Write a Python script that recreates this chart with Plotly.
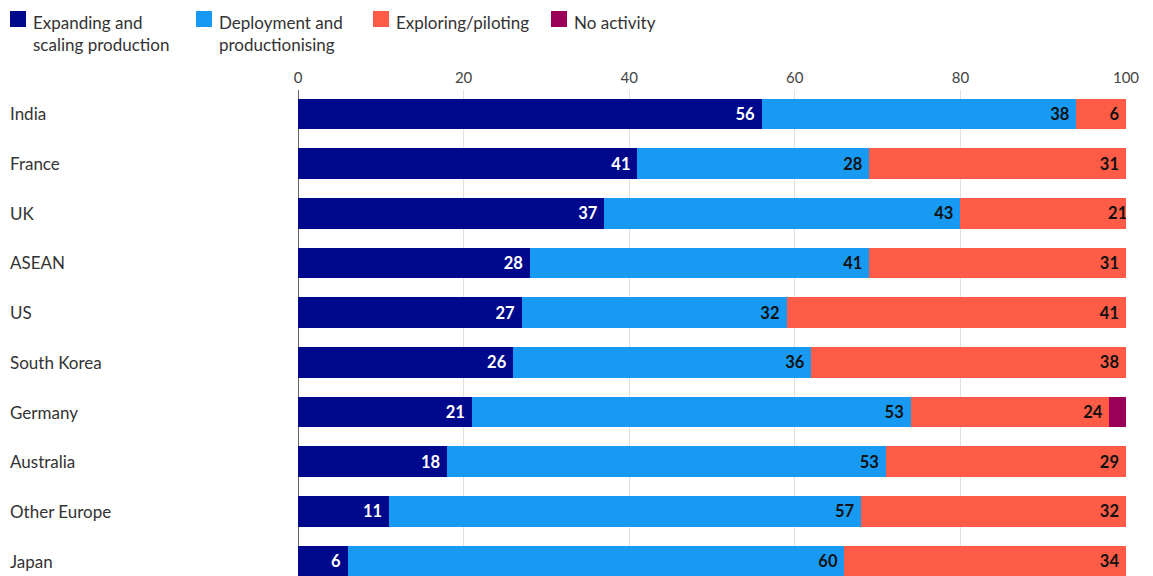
import plotly.graph_objects as go

countries = ["India", "France", "UK", "ASEAN", "US", "South Korea", "Germany",
             "Australia", "Other Europe", "Japan"]
expanding = [56, 41, 37, 28, 27, 26, 21, 18, 11, 6]
deployment = [38, 28, 43, 41, 32, 36, 53, 53, 57, 60]
exploring = [6, 31, 21, 31, 41, 38, 24, 29, 32, 34]
no_activity = [0, 0, 0, 0, 0, 0, 2, 0, 0, 0]

series_names = ["Expanding and<br>scaling production", "Deployment and<br>productionising",
                "Exploring/piloting", "No activity"]
series_values = [expanding, deployment, exploring, no_activity]
colors = ["#00098c", "#189af2", "#fe5c46", "#9b0059"]
text_colors = ["white", "#111111", "#111111", "white"]

FONT = "Lato"
W, H = 1145, 568
ML, MR, MT, MB = 290, 27, 82, 0
PW, PH = W - ML - MR, H - MT - MB
OFF = 8  # page body offset


def px(page_x):
    return (page_x - OFF - ML) / PW


def py(page_y):
    return (H - (page_y - OFF)) / PH


fig = go.Figure()
for name, vals, color, tcolor in zip(series_names, series_values, colors, text_colors):
    fig.add_trace(go.Bar(
        y=countries, x=vals, name=name, orientation="h",
        marker=dict(color=color, line=dict(width=0)),
        text=[str(v) if v >= 5 else "" for v in vals],
        texttemplate="%{text} ",
        textposition="inside", insidetextanchor="end",
        textfont=dict(family=FONT, size=16.5, color=tcolor, weight="bold"),
        hoverinfo="x+y", showlegend=False,
    ))

for c in countries:
    fig.add_annotation(
        x=px(8), xref="paper", y=c, yref="y", text=c, showarrow=False,
        xanchor="left", font=dict(family=FONT, size=17, color="#333333"))

# Legend (manual, to match positions)
legend_x = [10, 196, 373, 551]
for lx, name, color in zip(legend_x, series_names, colors):
    fig.add_shape(type="rect", xref="paper", yref="paper",
                  x0=px(lx), x1=px(lx + 16), y0=py(27), y1=py(11),
                  fillcolor=color, line=dict(width=0))
    fig.add_annotation(x=px(lx + 21), y=py(10), xref="paper", yref="paper",
                       text=name, showarrow=False, xanchor="left", yanchor="top",
                       align="left",
                       font=dict(family=FONT, size=17, color="#333333"))

fig.update_layout(
    barmode="stack", bargap=0.38,
    width=W, height=H,
    margin=dict(l=ML, r=MR, t=MT, b=MB),
    plot_bgcolor="white", paper_bgcolor="white",
    font=dict(family=FONT, size=16, color="#333333"),
    showlegend=False,
    uniformtext=dict(mode=False),
)
fig.update_xaxes(side="top", range=[0, 100], tickvals=[0, 20, 40, 60, 80, 100],
                 showgrid=True, gridcolor="#e1e1e1", gridwidth=1,
                 zeroline=True, zerolinecolor="#666666", zerolinewidth=1,
                 tickfont=dict(family=FONT, size=15, color="#444444"),
                 ticklabelstandoff=3,
                 ticks="", fixedrange=True)
fig.update_yaxes(range=[9.302, -0.483], showticklabels=False, showgrid=False,
                 zeroline=False, fixedrange=True)

fig.write_html("out.html")
